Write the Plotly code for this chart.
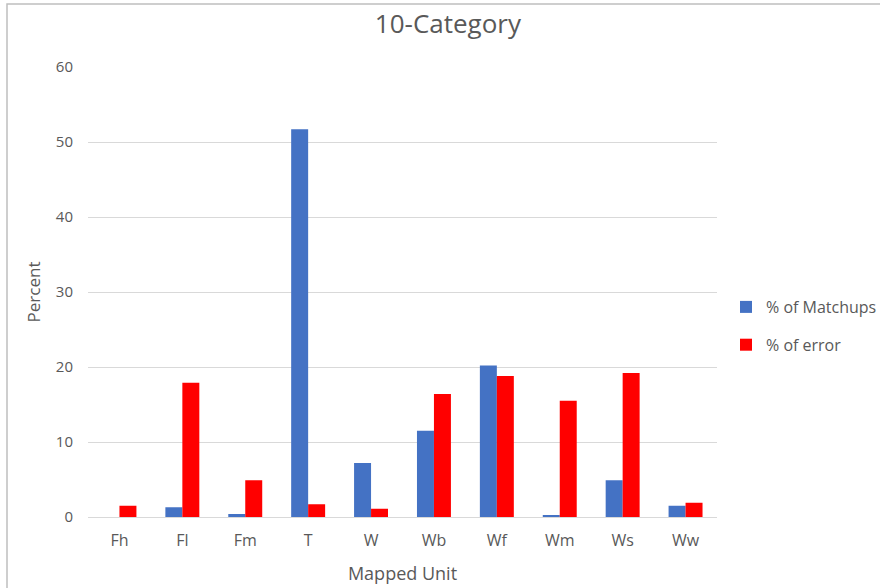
import plotly.graph_objects as go

categories = ["Fh", "Fl", "Fm", "T", "W", "Wb", "Wf", "Wm", "Ws", "Ww"]
matchups = [0, 1.3, 0.4, 51.7, 7.2, 11.5, 20.2, 0.25, 4.9, 1.5]
error = [1.5, 17.9, 4.9, 1.7, 1.1, 16.4, 18.8, 15.5, 19.2, 1.9]
y_ticks = [0, 10, 20, 30, 40, 50, 60]

FONT = "Open Sans"
TXT = "#595959"

fig = go.Figure()
fig.add_trace(go.Bar(x=categories, y=matchups, name="% of Matchups",
                     marker=dict(color="#4472C4", line=dict(width=0)),
                     legendgroup="a"))
fig.add_trace(go.Bar(x=categories, y=error, name="% of error",
                     marker=dict(color="#FF0000", line=dict(width=0)),
                     legendgroup="b"))

fig.update_layout(
    width=880, height=588,
    margin=dict(l=88, r=163, t=67, b=71, autoexpand=False),
    paper_bgcolor="white", plot_bgcolor="white",
    barmode="group", bargap=0.46, bargroupgap=0,
    font=dict(family=FONT, color=TXT, size=15),
    title=dict(text="10-Category", x=0.509, xanchor="center",
               y=1 - 24 / 588, yanchor="middle", yref="container",
               font=dict(size=26, color=TXT, family=FONT)),
    xaxis=dict(title=dict(text="Mapped Unit", standoff=17, font=dict(size=18)),
               showgrid=False, showline=True, linecolor="#D9D9D9",
               tickfont=dict(size=16), ticks="", ticklabelstandoff=9),
    yaxis=dict(title=dict(text="Percent", standoff=10, font=dict(size=17)),
               range=[0, 60], tickvals=y_ticks, showgrid=True,
               gridcolor="#D9D9D9", zeroline=False, showline=False,
               tickfont=dict(size=15), ticks="", ticklabelstandoff=14),
    legend=dict(x=(726 - 88) / 629, y=(517 - 326) / 450, xanchor="left", yanchor="middle",
                traceorder="grouped", tracegroupgap=14, itemwidth=30,
                font=dict(size=16, color=TXT), bgcolor="rgba(0,0,0,0)"),
    shapes=[dict(type="rect", xref="paper", yref="paper",
                 x0=(7 - 88) / 629, x1=(920 - 88) / 629,
                 y0=(517 - 620) / 450, y1=(517 - 4) / 450,
                 line=dict(color="#BFBFBF", width=1.5), layer="below")],
)

fig.write_html("out.html")
